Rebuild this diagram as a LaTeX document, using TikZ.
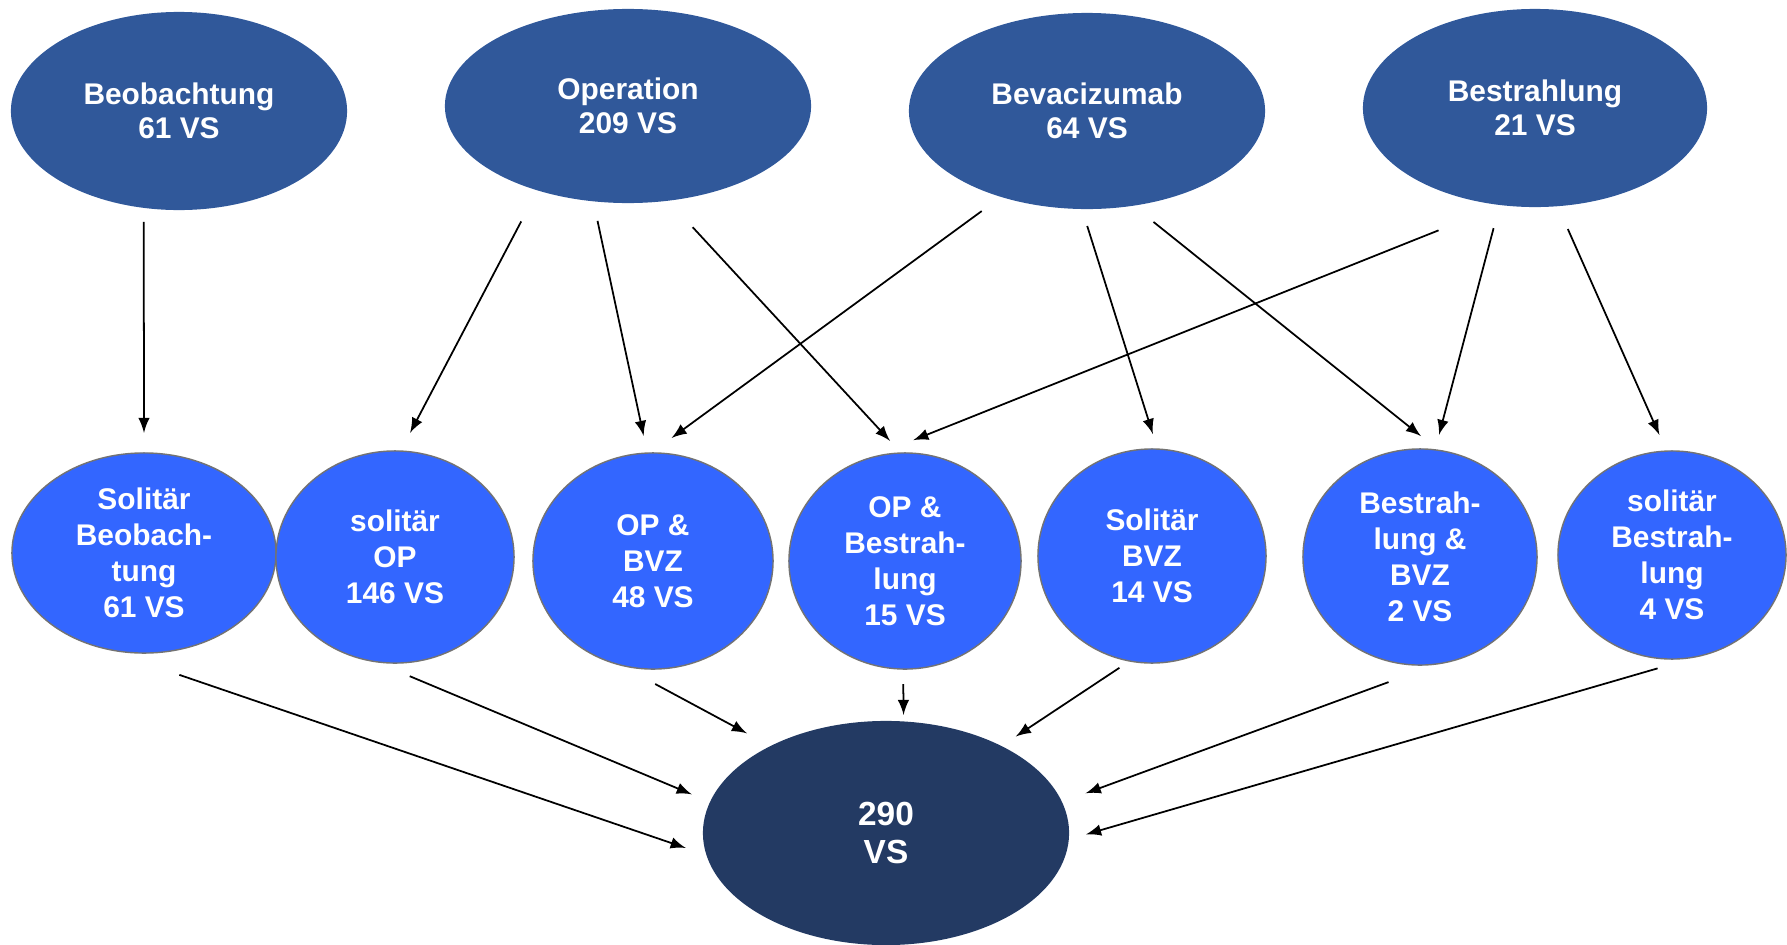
\documentclass[tikz,border=0pt]{standalone}
\usepackage{fontspec}
\setmainfont{Liberation Sans}
\usepackage{tikz}
\usetikzlibrary{shapes.geometric}

\definecolor{topblue}{RGB}{48,88,154}
\definecolor{midblue}{RGB}{51,102,255}
\definecolor{totblue}{RGB}{35,58,99}

\begin{document}
\begin{tikzpicture}
  [x=0.01cm,y=-0.01cm,>=latex,
   start/.style={ellipse,fill=topblue,text=white,align=center,inner sep=0,
                 outer sep=0,font=\bfseries\fontsize{8.5}{9.7}\selectfont},
   group/.style={ellipse,fill=midblue,draw=black!55,line width=0.4pt,text=white,
                 align=center,inner sep=0,outer sep=0,
                 font=\bfseries\fontsize{8.5}{10.2}\selectfont},
   total/.style={ellipse,fill=totblue,text=white,align=center,inner sep=0,
                 outer sep=0,font=\bfseries\fontsize{9.5}{11}\selectfont},
   flow/.style={->,line width=0.5pt}]
  \useasboundingbox (0,0) rectangle (1787,945);
  % therapy arms
  \node[start,minimum width=3.36cm,minimum height=1.98cm] (beob) at (179,111) {Beobachtung\\61 VS};
  \node[start,minimum width=3.66cm,minimum height=1.94cm] (oper) at (628,106) {Operation\\209 VS};
  \node[start,minimum width=3.56cm,minimum height=1.96cm] (bev) at (1087,111) {Bevacizumab\\64 VS};
  \node[start,minimum width=3.44cm,minimum height=1.98cm] (bestr) at (1535,108) {Bestrahlung\\21 VS};
  % combinations
  \node[group,minimum width=2.64cm,minimum height=2.00cm] (sb) at (144,553) {Solitär\\Beobach-\\tung\\61 VS};
  \node[group,minimum width=2.38cm,minimum height=2.12cm] (sop) at (395,557) {solitär\\OP\\146 VS};
  \node[group,minimum width=2.40cm,minimum height=2.16cm] (opbvz) at (653,561) {OP \&\\BVZ\\48 VS};
  \node[group,minimum width=2.32cm,minimum height=2.16cm] (opb) at (905,561) {OP \&\\Bestrah-\\lung\\15 VS};
  \node[group,minimum width=2.28cm,minimum height=2.14cm] (sbvz) at (1152,556) {Solitär\\BVZ\\14 VS};
  \node[group,minimum width=2.34cm,minimum height=2.16cm] (bbvz) at (1420,557) {Bestrah-\\lung \&\\BVZ\\2 VS};
  \node[group,minimum width=2.28cm,minimum height=2.08cm] (sbestr) at (1672,555) {solitär\\Bestrah-\\lung\\4 VS};
  % sum
  \node[total,minimum width=3.66cm,minimum height=2.24cm] (tot) at (886,833) {290\\VS};
  % top -> middle
  \draw[flow,shorten <=0.14cm,shorten >=0.20cm] (beob.250) to (sb.north);
  \draw[flow,shorten <=0.35cm,shorten >=0.205cm] (oper.223) to (sop.87);
  \draw[flow,shorten <=0.20cm,shorten >=0.175cm] (oper.250) to (opbvz.93);
  \draw[flow,shorten <=0.36cm,shorten >=0.165cm] (oper.293) to (opb.92);
  \draw[flow,shorten <=0.24cm,shorten >=0.254cm] (bev.225) to (opbvz.91);
  \draw[flow,shorten <=0.178cm,shorten >=0.158cm] (bev.267) to (sbvz.87);
  \draw[flow,shorten <=0.26cm,shorten >=0.228cm] (bev.296) to (bbvz.80);
  \draw[flow,shorten <=0.678cm,shorten >=0.548cm] (bestr.251) to (opb.113);
  \draw[flow,shorten <=0.24cm,shorten >=0.154cm] (bestr.250) to (bbvz.82);
  \draw[flow,shorten <=0.25cm,shorten >=0.176cm] (bestr.283) to (sbestr.93);
  % middle -> sum
  \draw[flow,shorten <=0.951cm,shorten >=0.219cm] (sb.239) to (tot.187);
  \draw[flow,shorten <=0.38cm,shorten >=0.198cm] (sop.259) to (tot.170);
  \draw[flow,shorten <=0.407cm,shorten >=0.268cm] (opbvz.252) to (tot.143);
  \draw[flow,shorten <=0.15cm,shorten >=0.065cm] (opb.269) to (tot.81);
  \draw[flow,shorten <=0.123cm,shorten >=0.172cm] (sbvz.258) to (tot.37);
  \draw[flow,shorten <=0.535cm,shorten >=0.253cm] (bbvz.280) to (tot.10);
  \draw[flow,shorten <=0.487cm,shorten >=0.179cm] (sbestr.288) to (tot.358);
\end{tikzpicture}
\end{document}
